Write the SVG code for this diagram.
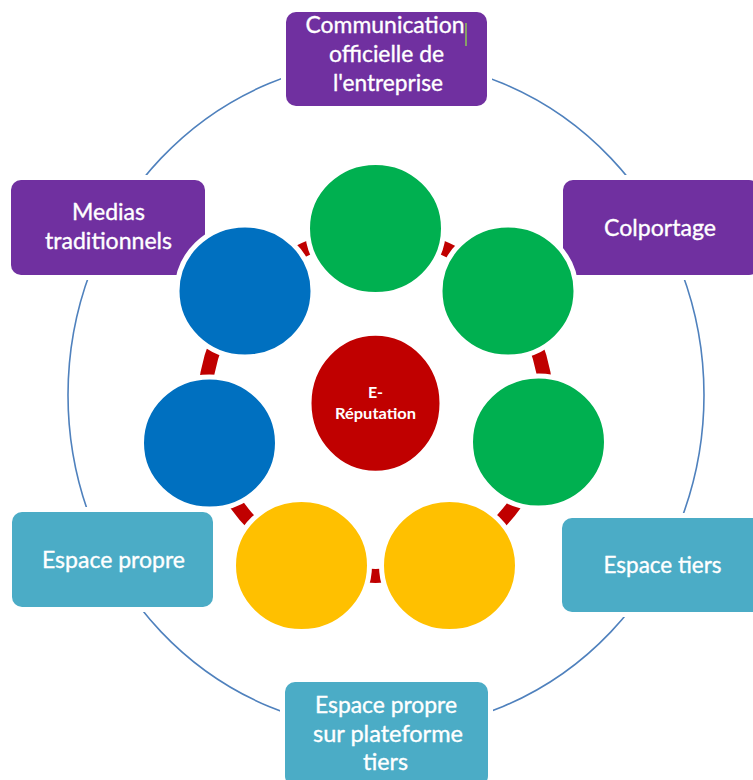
<svg xmlns="http://www.w3.org/2000/svg" width="753" height="780" viewBox="0 0 753 780">
  <style>
    .orbit{fill:none;stroke:#4F81BD;stroke-width:1.6}
    .box{stroke:#fff;stroke-width:10;paint-order:stroke}
    .purple{fill:#7030A0}
    .teal{fill:#4BACC6}
    .lbl{font-family:Lato,"Open Sans","Liberation Sans",sans-serif;font-size:23px;fill:#fff;stroke:#fff;stroke-width:0.35;text-anchor:middle}
    .core{font-family:Lato,"Open Sans","Liberation Sans",sans-serif;font-weight:bold;font-size:16px;fill:#fff;text-anchor:middle}
    .link{fill:none;stroke:#C00000;stroke-width:14}
    .ball{stroke:#fff;stroke-width:5}
    .green{fill:#00B050}
    .blue{fill:#0070C0}
    .yellow{fill:#FFC000}
    .red{fill:#C00000}
  </style>

  <!-- outer orbit linking the six channel boxes -->
  <g id="connectors">
    <ellipse class="orbit" cx="386" cy="395" rx="318" ry="335"/>
    <!-- inner cycle band, visible only in the gaps between the circles -->
    <circle class="link" cx="375.5" cy="405" r="171"/>
  </g>

  <!-- channel boxes -->
  <g id="node-communication">
    <rect class="box purple" x="286" y="12" width="201" height="94" rx="10"/>
    <text class="lbl" x="385" y="33" textLength="159" lengthAdjust="spacingAndGlyphs">Communication</text>
    <text class="lbl" x="386.5" y="62" textLength="115" lengthAdjust="spacingAndGlyphs">officielle de</text>
    <text class="lbl" x="388" y="91" textLength="110" lengthAdjust="spacingAndGlyphs">l'entreprise</text>
    <line x1="466" y1="23" x2="466" y2="46" stroke="#92D050" stroke-width="1.4"/>
  </g>
  <g id="node-medias">
    <rect class="box purple" x="11" y="180" width="194" height="95" rx="10"/>
    <text class="lbl" x="108.5" y="220" textLength="73" lengthAdjust="spacingAndGlyphs">Medias</text>
    <text class="lbl" x="108.5" y="249" textLength="127" lengthAdjust="spacingAndGlyphs">traditionnels</text>
  </g>
  <g id="node-colportage">
    <rect class="box purple" x="563" y="180" width="196" height="95" rx="10"/>
    <text class="lbl" x="660" y="236" textLength="112" lengthAdjust="spacingAndGlyphs">Colportage</text>
  </g>
  <g id="node-espace-propre">
    <rect class="box teal" x="12" y="512" width="201" height="95" rx="10"/>
    <text class="lbl" x="113.5" y="568" textLength="143" lengthAdjust="spacingAndGlyphs">Espace propre</text>
  </g>
  <g id="node-espace-tiers">
    <rect class="box teal" x="562" y="518" width="201" height="94" rx="10"/>
    <text class="lbl" x="662.5" y="573" textLength="118" lengthAdjust="spacingAndGlyphs">Espace tiers</text>
  </g>
  <g id="node-plateforme">
    <rect class="box teal" x="285" y="682" width="203" height="104" rx="10"/>
    <text class="lbl" x="386" y="713" textLength="142" lengthAdjust="spacingAndGlyphs">Espace propre</text>
    <text class="lbl" x="388" y="742" textLength="150" lengthAdjust="spacingAndGlyphs">sur plateforme</text>
    <text class="lbl" x="385.5" y="770" textLength="45" lengthAdjust="spacingAndGlyphs">tiers</text>
  </g>

  <!-- cycle of seven circles -->
  <g id="circle-1"><ellipse class="ball green" cx="375.5" cy="228.5" rx="68" ry="66"/></g>
  <g id="circle-2"><ellipse class="ball green" cx="508" cy="291" rx="68" ry="66"/></g>
  <g id="circle-3"><ellipse class="ball green" cx="538.5" cy="442" rx="68" ry="66"/></g>
  <g id="circle-4"><ellipse class="ball yellow" cx="449.5" cy="565.5" rx="68" ry="66"/></g>
  <g id="circle-5"><ellipse class="ball yellow" cx="301.5" cy="565.5" rx="68" ry="66"/></g>
  <g id="circle-6"><ellipse class="ball blue" cx="209.5" cy="443" rx="68" ry="66"/></g>
  <g id="circle-7"><ellipse class="ball blue" cx="245" cy="291" rx="68" ry="66"/></g>

  <!-- central node -->
  <g id="node-e-reputation">
    <ellipse class="ball red" cx="375.5" cy="403.2" rx="66.5" ry="70"/>
    <text class="core" x="375.5" y="398">E-</text>
    <text class="core" x="375.5" y="419" textLength="81" lengthAdjust="spacingAndGlyphs">Réputation</text>
  </g>
</svg>
